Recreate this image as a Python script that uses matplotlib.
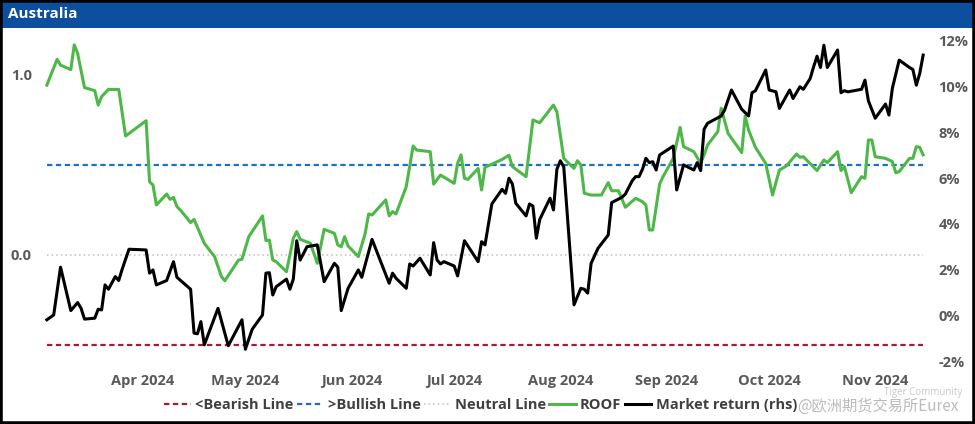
import pandas as pd
import matplotlib.pyplot as plt
from matplotlib.patches import Rectangle
from matplotlib.ticker import FuncFormatter

plt.rcParams["font.family"] = ["Open Sans", "DejaVu Sans"]

# ROOF indicator (left axis)
roof_dates = [
    "2024-03-04", "2024-03-07", "2024-03-08", "2024-03-11", "2024-03-12", "2024-03-13",
    "2024-03-15", "2024-03-18", "2024-03-19", "2024-03-20", "2024-03-22", "2024-03-25",
    "2024-03-27", "2024-04-02", "2024-04-03", "2024-04-04", "2024-04-05", "2024-04-08",
    "2024-04-09", "2024-04-10", "2024-04-11", "2024-04-12", "2024-04-15", "2024-04-16",
    "2024-04-19", "2024-04-22", "2024-04-24", "2024-04-25", "2024-04-29", "2024-04-30",
    "2024-05-02", "2024-05-06", "2024-05-07", "2024-05-08", "2024-05-09", "2024-05-10",
    "2024-05-13", "2024-05-15", "2024-05-16", "2024-05-17", "2024-05-20", "2024-05-22",
    "2024-05-24", "2024-05-27", "2024-05-28", "2024-05-29", "2024-05-30", "2024-05-31",
    "2024-06-03", "2024-06-05", "2024-06-06", "2024-06-07", "2024-06-11", "2024-06-12",
    "2024-06-13", "2024-06-14", "2024-06-17", "2024-06-19", "2024-06-20", "2024-06-24",
    "2024-06-25", "2024-06-27", "2024-07-01", "2024-07-02", "2024-07-03", "2024-07-04",
    "2024-07-05", "2024-07-08", "2024-07-09", "2024-07-10", "2024-07-15", "2024-07-17",
    "2024-07-18", "2024-07-22", "2024-07-24", "2024-07-26", "2024-07-30", "2024-07-31",
    "2024-08-02", "2024-08-05", "2024-08-06", "2024-08-07", "2024-08-08", "2024-08-10",
    "2024-08-13", "2024-08-15", "2024-08-16", "2024-08-18", "2024-08-20", "2024-08-23",
    "2024-08-25", "2024-08-26", "2024-08-27", "2024-08-28", "2024-08-30", "2024-08-31",
    "2024-09-03", "2024-09-05", "2024-09-06", "2024-09-08", "2024-09-09", "2024-09-11",
    "2024-09-12", "2024-09-13", "2024-09-16", "2024-09-17", "2024-09-19", "2024-09-23",
    "2024-09-24", "2024-09-25", "2024-09-27", "2024-09-30", "2024-10-02", "2024-10-04",
    "2024-10-06", "2024-10-09", "2024-10-10", "2024-10-11", "2024-10-15", "2024-10-17",
    "2024-10-18", "2024-10-21", "2024-10-22", "2024-10-23", "2024-10-25", "2024-10-28",
    "2024-10-29", "2024-10-30", "2024-10-31", "2024-11-01", "2024-11-04", "2024-11-06",
    "2024-11-07", "2024-11-08", "2024-11-11", "2024-11-12", "2024-11-13", "2024-11-14",
    "2024-11-15",
]
roof = [
    0.944, 1.087, 1.055, 1.03, 1.167, 1.12,
    0.93, 0.913, 0.833, 0.88, 0.92, 0.92,
    0.661, 0.746, 0.407, 0.389, 0.278, 0.339,
    0.309, 0.32, 0.269, 0.25, 0.18, 0.198,
    0.065, -0.009, -0.12, -0.143, -0.028, -0.024,
    0.102, 0.217, 0.08, 0.083, -0.028, -0.037,
    -0.093, 0.093, 0.13, 0.087, 0.065, -0.046,
    0.143, 0.12, 0.056, 0.046, 0.102, 0.05,
    -0.009, 0.12, 0.228, 0.222, 0.306, 0.217,
    0.241, 0.228, 0.38, 0.606, 0.583, 0.574,
    0.394, 0.444, 0.398, 0.509, 0.556, 0.426,
    0.42, 0.481, 0.361, 0.487, 0.531, 0.554,
    0.491, 0.435, 0.75, 0.735, 0.833, 0.796,
    0.537, 0.481, 0.524, 0.5, 0.343, 0.333,
    0.333, 0.402, 0.357, 0.357, 0.265, 0.315,
    0.296, 0.278, 0.139, 0.139, 0.394, 0.435,
    0.537, 0.709, 0.602, 0.583, 0.574, 0.509,
    0.556, 0.611, 0.685, 0.815, 0.676, 0.569,
    0.772, 0.694, 0.598, 0.509, 0.333, 0.472,
    0.494, 0.561, 0.543, 0.546, 0.469, 0.528,
    0.513, 0.574, 0.469, 0.491, 0.346, 0.435,
    0.426, 0.639, 0.639, 0.546, 0.537, 0.519,
    0.457, 0.463, 0.537, 0.537, 0.602, 0.598,
    0.556,
]

# Market return in % (right axis)
mkt_dates = [
    "2024-03-04", "2024-03-06", "2024-03-08", "2024-03-11", "2024-03-13", "2024-03-14",
    "2024-03-15", "2024-03-18", "2024-03-19", "2024-03-20", "2024-03-21", "2024-03-22",
    "2024-03-24", "2024-03-25", "2024-03-26", "2024-03-28", "2024-04-02", "2024-04-03",
    "2024-04-04", "2024-04-05", "2024-04-08", "2024-04-10", "2024-04-11", "2024-04-15",
    "2024-04-16", "2024-04-17", "2024-04-18", "2024-04-19", "2024-04-23", "2024-04-26",
    "2024-04-30", "2024-05-01", "2024-05-03", "2024-05-06", "2024-05-07", "2024-05-08",
    "2024-05-09", "2024-05-10", "2024-05-13", "2024-05-14", "2024-05-15", "2024-05-16",
    "2024-05-17", "2024-05-19", "2024-05-22", "2024-05-24", "2024-05-27", "2024-05-28",
    "2024-05-29", "2024-05-31", "2024-06-03", "2024-06-04", "2024-06-07", "2024-06-12",
    "2024-06-13", "2024-06-14", "2024-06-17", "2024-06-18", "2024-06-19", "2024-06-21",
    "2024-06-24", "2024-06-25", "2024-06-26", "2024-06-27", "2024-06-28", "2024-07-01",
    "2024-07-02", "2024-07-04", "2024-07-08", "2024-07-09", "2024-07-10", "2024-07-12",
    "2024-07-15", "2024-07-16", "2024-07-17", "2024-07-18", "2024-07-19", "2024-07-22",
    "2024-07-23", "2024-07-24", "2024-07-25", "2024-07-26", "2024-07-29", "2024-07-30",
    "2024-07-31", "2024-08-01", "2024-08-02", "2024-08-05", "2024-08-07", "2024-08-08",
    "2024-08-09", "2024-08-10", "2024-08-12", "2024-08-15", "2024-08-16", "2024-08-19",
    "2024-08-20", "2024-08-22", "2024-08-23", "2024-08-24", "2024-08-25", "2024-08-26",
    "2024-08-27", "2024-08-28", "2024-08-29", "2024-08-30", "2024-09-03", "2024-09-04",
    "2024-09-06", "2024-09-09", "2024-09-10", "2024-09-11", "2024-09-12", "2024-09-13",
    "2024-09-17", "2024-09-18", "2024-09-20", "2024-09-23", "2024-09-25", "2024-09-26",
    "2024-09-27", "2024-09-30", "2024-10-01", "2024-10-03", "2024-10-04", "2024-10-07",
    "2024-10-08", "2024-10-10", "2024-10-11", "2024-10-13", "2024-10-14", "2024-10-15",
    "2024-10-16", "2024-10-17", "2024-10-18", "2024-10-21", "2024-10-22", "2024-10-23",
    "2024-10-24", "2024-10-28", "2024-10-29", "2024-10-30", "2024-11-01", "2024-11-04",
    "2024-11-05", "2024-11-06", "2024-11-08", "2024-11-11", "2024-11-12", "2024-11-13",
    "2024-11-14", "2024-11-15",
]
mkt_return = [
    -0.17, 0.04, 2.12, 0.23, 0.58, 0.33,
    -0.14, -0.1, 0.29, 0.26, 1.35, 1.16,
    1.71, 1.54, 2.03, 2.9, 2.87, 1.86,
    2.0, 1.35, 1.54, 2.36, 1.68, 1.16,
    -0.75, -0.78, -0.25, -1.26, 0.33, -1.3,
    -0.17, -1.45, -0.58, 0.04, 1.86, 1.88,
    0.91, 1.27, 1.6, 1.16, 1.6, 3.27,
    2.43, 3.01, 3.09, 1.49, 2.29, 2.12,
    0.23, 1.2, 2.0, 1.68, 3.33, 1.42,
    1.86, 1.64, 1.2, 2.26, 2.17, 2.51,
    1.78, 3.19, 2.43, 2.26, 2.36, 2.17,
    1.74, 3.27, 2.36, 3.23, 3.09, 4.87,
    5.51, 5.33, 5.99, 5.74, 4.9, 4.35,
    4.87, 4.78, 3.38, 4.2, 5.12, 4.61,
    6.38, 6.75, 6.49, 0.48, 1.2, 1.16,
    0.99, 2.29, 2.94, 3.52, 4.93, 5.16,
    5.3, 5.88, 6.06, 6.06, 6.38, 6.86,
    6.67, 6.71, 6.35, 7.0, 7.39, 5.48,
    6.57, 6.35, 6.67, 6.32, 8.12, 8.38,
    8.7, 8.96, 9.83, 8.99, 8.7, 9.71,
    9.8, 10.7, 9.83, 9.75, 9.03, 9.83,
    9.46, 9.97, 9.86, 10.33, 10.84, 11.3,
    10.81, 11.78, 10.81, 11.57, 9.71, 9.8,
    9.75, 9.86, 10.26, 9.36, 8.6, 9.22,
    8.74, 9.9, 11.13, 10.81, 10.72, 10.04,
    10.55, 11.35,
]

bearish_level = -0.5
bullish_level = 0.5
neutral_level = 0.0
left_ticks = [0.0, 1.0]
right_ticks = [-2, 0, 2, 4, 6, 8, 10, 12]
month_ticks = ["2024-04-01", "2024-05-01", "2024-06-01", "2024-07-01",
               "2024-08-01", "2024-09-01", "2024-10-01", "2024-11-01"]

rd = pd.to_datetime(roof_dates)
md = pd.to_datetime(mkt_dates)
span = [rd[0], rd[-1]]

fig = plt.figure(figsize=(9.75, 4.24), dpi=100)
ax = fig.add_axes([40 / 975, 61 / 424, 890 / 975, 330 / 424])
ax2 = ax.twinx()

tick_color = "#595959"
l1, = ax.plot(span, [bearish_level] * 2, color="#A31D3A", lw=1.6, dashes=(2.4, 1.6), label="<Bearish Line")
l2, = ax.plot(span, [bullish_level] * 2, color="#1F6FC5", lw=1.6, dashes=(2.4, 1.6), label=">Bullish Line")
l3, = ax.plot(span, [neutral_level] * 2, color="#BFBFBF", lw=1.1, dashes=(1, 2), label="Neutral Line")
l4, = ax.plot(rd, roof, color="#4DB848", lw=2.2, label="ROOF")
l5, = ax2.plot(md, mkt_return, color="black", lw=2.2, label="Market return (rhs)")

ax.set_xlim(pd.Timestamp("2024-03-02"), pd.Timestamp("2024-11-17"))
ax.set_ylim(-0.6, 1.2333)
ax2.set_ylim(-2.05, 12.31)

ax.set_yticks(left_ticks)
ax.yaxis.set_major_formatter(FuncFormatter(lambda v, p: f"{v:.1f}"))
ax2.set_yticks(right_ticks)
ax2.yaxis.set_major_formatter(FuncFormatter(lambda v, p: f"{v:.0f}%"))
ax.set_xticks(pd.to_datetime(month_ticks))
ax.set_xticklabels([pd.Timestamp(m).strftime("%b %Y") for m in month_ticks])

for a in (ax, ax2):
    for s in a.spines.values():
        s.set_visible(False)
    a.tick_params(length=0, labelsize=10.5, labelcolor=tick_color)
    for t in a.get_xticklabels() + a.get_yticklabels():
        t.set_fontweight("bold")
ax.tick_params(axis="x", pad=8)
ax.tick_params(axis="y", pad=6)
ax2.tick_params(axis="y", pad=6)

leg = fig.legend(handles=[l1, l2, l3, l4, l5], loc="center", bbox_to_anchor=(0.493, 0.045),
                 ncol=5, frameon=False, handlelength=1.8, handletextpad=0.3, columnspacing=0.25,
                 borderpad=0.2, prop={"size": 10.5, "weight": "bold"})
for t in leg.get_texts():
    t.set_color("#404040")

# title bar and frame
fig.patches.append(Rectangle((0, 396 / 424), 1, 28 / 424, transform=fig.transFigure,
                             facecolor="#0B4F9E", edgecolor="none", zorder=0))
fig.text(8 / 975, 410 / 424, "Australia", color="white", fontsize=11, fontweight="bold",
         va="center", ha="left")
fig.patches.append(Rectangle((0, 0), 1, 1, transform=fig.transFigure, fill=False,
                             edgecolor="black", lw=4, zorder=5))

# watermark
fig.text(958 / 975, 18 / 424, "@欧洲期货交易所Eurex", color="#BBBBBB", fontsize=11,
         ha="right", va="center", family=["Noto Sans CJK SC", "DejaVu Sans"])
fig.text(962 / 975, 32 / 424, "Tiger Community", color="#C8C8C8", fontsize=7,
         ha="right", va="center")

fig.savefig("out.png", dpi=100)
